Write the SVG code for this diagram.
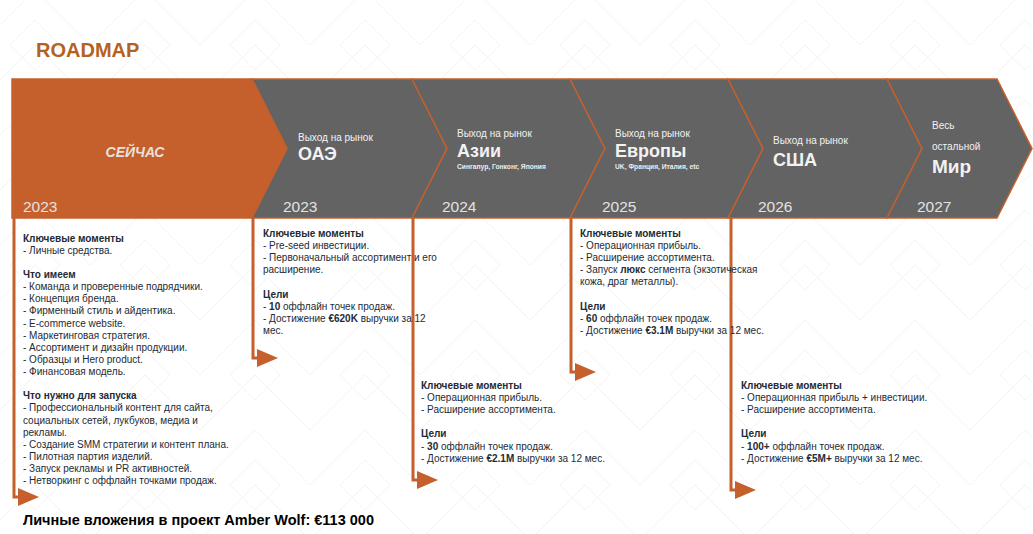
<svg xmlns="http://www.w3.org/2000/svg" width="1033" height="534" viewBox="0 0 1033 534">
<style>
.chev{fill:#636363;stroke:#C5602C;stroke-width:1.5;stroke-linejoin:miter}
.now{fill:#C5602C;stroke:#C5602C;stroke-width:1.5}
.yr{font-family:"Liberation Sans",Arial,sans-serif;font-size:15.5px;fill:#E2E2E2}
.sm{font-family:"Liberation Sans",Arial,sans-serif;font-size:10px;fill:#F2F2F2}
.big{font-family:"Liberation Sans",Arial,sans-serif;font-size:18px;font-weight:bold;fill:#F2F2F2}
.tiny{font-family:"Liberation Sans",Arial,sans-serif;font-size:6.7px;font-weight:bold;fill:#EDEDED}
.body{font-family:"Liberation Sans",Arial,sans-serif;font-size:10px;fill:#222B35}
.b{font-weight:bold}
.conn{fill:none;stroke:#C5602C;stroke-width:3}
.pat{fill:none;stroke:#F3F3F3;stroke-width:1}
</style>
<defs>
<marker id="arr" markerUnits="userSpaceOnUse" markerWidth="21" markerHeight="18" refX="0" refY="9" orient="auto">
<path d="M0,0 L21,9 L0,18 Z" fill="#C5602C"/>
</marker>
<pattern id="bg" patternUnits="userSpaceOnUse" width="110" height="110" x="-20" y="-10">
<path class="pat" d="M0,55 L55,0 L110,55 M0,110 L55,55 L110,110 M30,55 L55,30 L80,55 L55,80 Z"/>
</pattern>
</defs>
<rect width="1033" height="534" fill="#FFFFFF"/>
<rect width="1033" height="534" fill="url(#bg)"/>
<g id="title"><text x="36" y="57" style="font-family:'Liberation Sans',Arial,sans-serif;font-size:20px;font-weight:bold;fill:#B5621E">ROADMAP</text></g>

<g id="node-now">
<polygon class="now" points="12,79 252,79 287,148.5 252,218 12,218"/>
<text x="135" y="157" text-anchor="middle" style="font-family:'Liberation Sans',Arial,sans-serif;font-size:14px;font-weight:bold;font-style:italic;fill:#E8E2DE">СЕЙЧАС</text>
<text class="yr" x="23" y="212">2023</text>
</g>
<g id="node-uae">
<polygon class="chev" points="252,79 412,79 447,148.5 412,218 252,218 287,148.5"/>
<text class="sm" x="298" y="141">Выход на рынок</text>
<text class="big" x="298" y="160">ОАЭ</text>
<text class="yr" x="283" y="212">2023</text>
</g>
<g id="node-asia">
<polygon class="chev" points="412,79 570,79 605,148.5 570,218 412,218 447,148.5"/>
<text class="sm" x="457" y="137">Выход на рынок</text>
<text class="big" x="457" y="157">Азии</text>
<text class="tiny" x="457" y="169">Сингапур, Гонконг, Япония</text>
<text class="yr" x="442" y="212">2024</text>
</g>
<g id="node-europe">
<polygon class="chev" points="570,79 728,79 763,148.5 728,218 570,218 605,148.5"/>
<text class="sm" x="615" y="137">Выход на рынок</text>
<text class="big" x="615" y="157">Европы</text>
<text class="tiny" x="615" y="169">UK, Франция, Италия, etc</text>
<text class="yr" x="602" y="212">2025</text>
</g>
<g id="node-usa">
<polygon class="chev" points="728,79 887,79 922,148.5 887,218 728,218 763,148.5"/>
<text class="sm" x="773" y="144">Выход на рынок</text>
<text class="big" x="773" y="166">США</text>
<text class="yr" x="758" y="212">2026</text>
</g>
<g id="node-world">
<polygon class="chev" points="887,79 997,79 1032,148.5 997,218 887,218 922,148.5"/>
<text class="sm" x="932" y="129">Весь</text>
<text class="sm" x="932" y="150">остальной</text>
<text class="big" x="932" y="173" style="font-size:19px">Мир</text>
<text class="yr" x="917" y="212">2027</text>
</g>

<g id="connectors">
<path class="conn" d="M14,218 V497 H18" marker-end="url(#arr)"/>
<path class="conn" d="M253,218 V358 H257" marker-end="url(#arr)"/>
<path class="conn" d="M413,218 V480 H417" marker-end="url(#arr)"/>
<path class="conn" d="M571,218 V372 H575" marker-end="url(#arr)"/>
<path class="conn" d="M731,218 V490 H735" marker-end="url(#arr)"/>
</g>

<g id="block-2023-now">
<text class="body">
<tspan x="23" y="241.5" class="b">Ключевые моменты</tspan>
<tspan x="23" y="253.6">- Личные средства.</tspan>
<tspan x="23" y="277.9" class="b">Что имеем</tspan>
<tspan x="23" y="290">- Команда и проверенные подрядчики.</tspan>
<tspan x="23" y="302.2">- Концепция бренда.</tspan>
<tspan x="23" y="314.3">- Фирменный стиль и айдентика.</tspan>
<tspan x="23" y="326.5">- E-commerce website.</tspan>
<tspan x="23" y="338.6">- Маркетинговая стратегия.</tspan>
<tspan x="23" y="350.8">- Ассортимент и дизайн продукции.</tspan>
<tspan x="23" y="362.9">- Образцы и Hero product.</tspan>
<tspan x="23" y="375">- Финансовая модель.</tspan>
<tspan x="23" y="399" class="b">Что нужно для запуска</tspan>
<tspan x="23" y="411.3">- Профессиональный контент для сайта,</tspan>
<tspan x="23" y="423.5">социальных сетей, лукбуков, медиа и</tspan>
<tspan x="23" y="435.6">рекламы.</tspan>
<tspan x="23" y="447.8">- Создание SMM стратегии и контент плана.</tspan>
<tspan x="23" y="460">- Пилотная партия изделий.</tspan>
<tspan x="23" y="472.1">- Запуск рекламы и PR активностей.</tspan>
<tspan x="23" y="484.3">- Нетворкинг с оффлайн точками продаж.</tspan>
</text>
</g>
<g id="block-2023-uae">
<text class="body">
<tspan x="263" y="236.5" class="b">Ключевые моменты</tspan>
<tspan x="263" y="248.7">- Pre-seed инвестиции.</tspan>
<tspan x="263" y="260.9">- Первоначальный  ассортимент и его</tspan>
<tspan x="263" y="273.1">расширение.</tspan>
<tspan x="263" y="297.5" class="b">Цели</tspan>
<tspan x="263" y="309.7">- <tspan class="b">10</tspan> оффлайн точек продаж.</tspan>
<tspan x="263" y="321.9">- Достижение <tspan class="b">€620K</tspan> выручки за 12</tspan>
<tspan x="263" y="334.1">мес.</tspan>
</text>
</g>
<g id="block-2024-asia">
<text class="body">
<tspan x="421" y="388.5" class="b">Ключевые моменты</tspan>
<tspan x="421" y="400.7">- Операционная прибыль.</tspan>
<tspan x="421" y="412.9">- Расширение ассортимента.</tspan>
<tspan x="421" y="437.3" class="b">Цели</tspan>
<tspan x="421" y="449.5">- <tspan class="b">30</tspan> оффлайн точек продаж.</tspan>
<tspan x="421" y="461.7">- Достижение <tspan class="b">€2.1M</tspan> выручки за 12 мес.</tspan>
</text>
</g>
<g id="block-2025-europe">
<text class="body">
<tspan x="580" y="236.5" class="b">Ключевые моменты</tspan>
<tspan x="580" y="248.7">- Операционная прибыль.</tspan>
<tspan x="580" y="260.9">- Расширение ассортимента.</tspan>
<tspan x="580" y="273.1">- Запуск <tspan class="b">люкс</tspan> сегмента (экзотическая</tspan>
<tspan x="580" y="285.3">кожа, драг металлы).</tspan>
<tspan x="580" y="309.7" class="b">Цели</tspan>
<tspan x="580" y="321.9">- <tspan class="b">60</tspan> оффлайн точек продаж.</tspan>
<tspan x="580" y="334.1">- Достижение <tspan class="b">€3.1M</tspan> выручки за 12 мес.</tspan>
</text>
</g>
<g id="block-2026-usa">
<text class="body">
<tspan x="741" y="388.5" class="b">Ключевые моменты</tspan>
<tspan x="741" y="400.7">- Операционная прибыль + инвестиции.</tspan>
<tspan x="741" y="412.9">- Расширение ассортимента.</tspan>
<tspan x="741" y="437.3" class="b">Цели</tspan>
<tspan x="741" y="449.5">- <tspan class="b">100+</tspan> оффлайн точек продаж.</tspan>
<tspan x="741" y="461.7">- Достижение <tspan class="b">€5M+</tspan> выручки за 12 мес.</tspan>
</text>
</g>
<g id="footer"><text x="23" y="525" style="font-family:'Liberation Sans',Arial,sans-serif;font-size:14.5px;font-weight:bold;fill:#000">Личные вложения в проект Amber Wolf: €113 000</text></g>
</svg>
